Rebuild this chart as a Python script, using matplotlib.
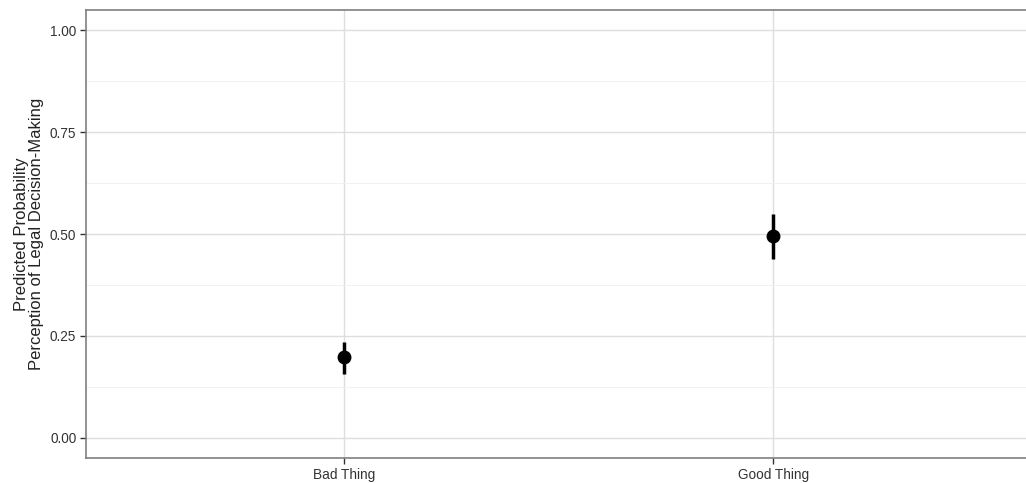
import matplotlib
matplotlib.use("Agg")
import matplotlib.pyplot as plt
import numpy as np

categories = ["Bad Thing", "Good Thing"]
estimates = [0.198, 0.495]
lower = [0.157, 0.439]
upper = [0.235, 0.549]
yticks = [0.00, 0.25, 0.50, 0.75, 1.00]
ytick_labels = ["0.00", "0.25", "0.50", "0.75", "1.00"]

plt.rcParams['font.family'] = ['Liberation Sans', 'DejaVu Sans']

fig = plt.figure(figsize=(10.26, 4.83), dpi=100)
ax = fig.add_axes([86/1026, 25/483, 945/1026, 448/483])

x = np.arange(len(categories)) + 1
est = np.array(estimates)
err = np.vstack([est - np.array(lower), np.array(upper) - est])
ax.errorbar(x, est, yerr=err, fmt='o', color='black', markersize=9,
            elinewidth=2.5, capsize=0, zorder=3)

ax.set_xlim(0.4, 2.6)
ax.set_ylim(-0.05, 1.05)
ax.set_xticks(x)
ax.set_xticklabels(categories, fontsize=9.8, color='#333333')
ax.set_yticks(yticks)
ax.set_yticklabels(ytick_labels, fontsize=9.8, color='#333333')
ax.set_yticks([0.125, 0.375, 0.625, 0.875], minor=True)
ax.grid(True, which='major', color='#dedede', linewidth=1.0, zorder=0)
ax.grid(True, which='minor', axis='y', color='#f0f0f0', linewidth=0.6, zorder=0)
ax.tick_params(axis='both', which='major', length=4, color='#333333', width=1, pad=3)
ax.tick_params(axis='y', which='minor', length=0)
for s in ax.spines.values():
    s.set_color('#7f7f7f')
    s.set_linewidth(1.2)
ax.set_axisbelow(True)
ax.set_ylabel("Predicted Probability\nPerception of Legal Decision-Making",
              fontsize=12, color='#222222', linespacing=1.0, labelpad=4)

fig.savefig("out.png", dpi=100)
